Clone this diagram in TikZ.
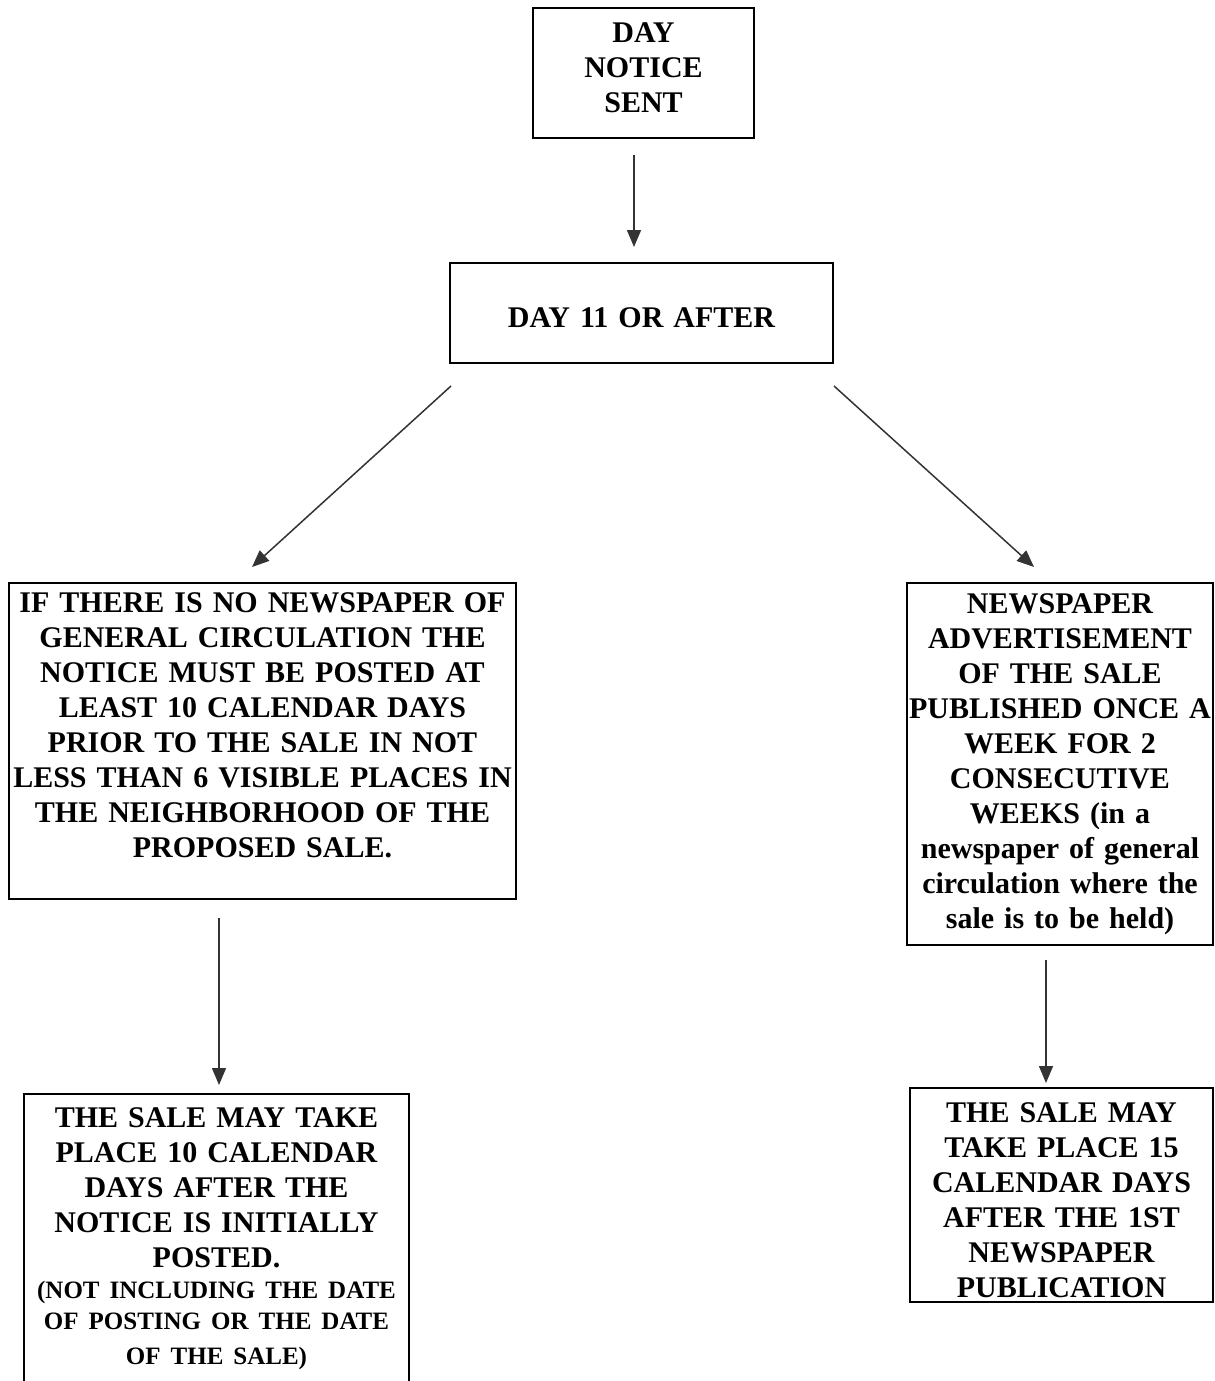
\documentclass[tikz,border=0pt]{standalone}
\usepackage{fontspec}
\setmainfont{Liberation Serif}
\usetikzlibrary{arrows.meta}
\begin{document}
\begin{tikzpicture}[x=1pt,y=-1pt,
  box/.style={draw, line width=2pt, anchor=north, align=center, inner sep=0pt, outer sep=0pt,
    font=\bfseries\fontsize{30}{35}\selectfont},
  arr/.style={draw=black!80, line width=1.5pt, -{Triangle[length=17pt,width=14pt]}}]
\useasboundingbox (0,0) rectangle (1215,1381);
\node[box, text width=221, text height=35, text depth=95] (sent) at (643.5,8){DAY\\NOTICE\\SENT};
\node[box, text width=383, text height=64, text depth=36] (day11) at (641.5,263){DAY 11 OR AFTER};
\node[box, text width=507, text height=29, text depth=287] (nocirc) at (262.5,583){IF THERE IS NO NEWSPAPER OF\\GENERAL CIRCULATION THE\\NOTICE MUST BE POSTED AT\\LEAST 10 CALENDAR DAYS\\PRIOR TO THE SALE IN NOT\\LESS THAN 6 VISIBLE PLACES IN\\THE NEIGHBORHOOD OF THE\\PROPOSED SALE.};
\node[box, text width=306, text height=30, text depth=332] (paper) at (1060,583){NEWSPAPER\\ADVERTISEMENT\\OF THE SALE\\PUBLISHED ONCE A\\WEEK FOR 2\\CONSECUTIVE\\WEEKS (in a\\newspaper of general\\circulation where the\\sale is to be held)};
\node[box, text width=385, text height=33, text depth=290] (posted) at (216.5,1094){THE SALE MAY TAKE\\PLACE 10 CALENDAR\\DAYS AFTER THE\\NOTICE IS INITIALLY\\POSTED.\\\fontsize{25}{31}\selectfont (NOT INCLUDING THE DATE\\OF POSTING OR THE DATE\\OF THE SALE)};
\node[box, text width=303, text height=34, text depth=180] (fifteen) at (1061.5,1088){THE SALE MAY\\TAKE PLACE 15\\CALENDAR DAYS\\AFTER THE 1ST\\NEWSPAPER\\PUBLICATION};
\draw[arr] ([xshift=-9.5pt,yshift=-17pt]sent.south) -- ([xshift=-7.5pt,yshift=16pt]day11.north);
\draw[arr] ([xshift=1pt,yshift=-23pt]day11.south west) -- ([xshift=243pt,yshift=16pt]nocirc.north west);
\draw[arr] ([xshift=1pt,yshift=-23pt]day11.south east) -- ([xshift=127pt,yshift=16pt]paper.north west);
\draw[arr] ([xshift=-43.5pt,yshift=-19pt]nocirc.south) -- ([xshift=2.5pt,yshift=9pt]posted.north);
\draw[arr] ([xshift=-14pt,yshift=-15pt]paper.south) -- ([xshift=-15.5pt,yshift=5pt]fifteen.north);
\end{tikzpicture}
\end{document}
